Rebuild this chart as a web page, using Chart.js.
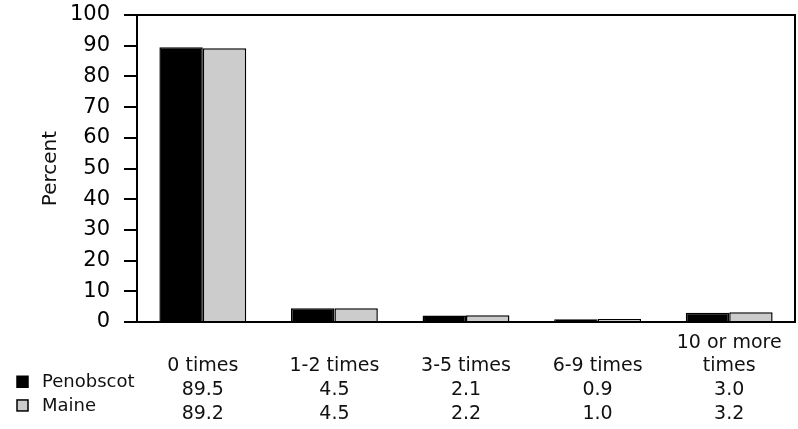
<!DOCTYPE html>
<html>
<head>
<meta charset="utf-8">
<script src="https://cdn.jsdelivr.net/npm/chart.js@4/dist/chart.umd.min.js"></script>
<style>
  html, body { margin: 0; padding: 0; background: #fff; }
  #wrap { width: 798px; height: 429px; }
</style>
</head>
<body>
<div id="wrap"><canvas id="myChart" width="798" height="429"></canvas></div>
<script>
const categories = [["", "0 times"], ["", "1-2 times"], ["", "3-5 times"], ["", "6-9 times"], ["10 or more", "times"]];
const seriesNames = ["Penobscot", "Maine"];
const penobscot = [89.5, 4.5, 2.1, 0.9, 3.0];
const maine = [89.2, 4.5, 2.2, 1.0, 3.2];
const seriesColors = ["#000000", "#cccccc"];

const FONT = "'DejaVu Sans', Verdana, sans-serif";
const TABLE_SIZE = 19;
const LINE_H = 23.7;
const X_PAD = 1;

// x tick labels carry the data table rows under each category
const tableLabels = categories.map((c, i) => [
  c[0], c[1], penobscot[i].toFixed(1), maine[i].toFixed(1)
]);

// legend column + frame on top/right
const tablePlugin = {
  id: "tableLegend",
  afterDraw(chart) {
    const ctx = chart.ctx;
    const area = chart.chartArea;
    const xs = chart.scales.x;
    ctx.save();
    ctx.strokeStyle = "#000";
    ctx.lineWidth = 2;
    ctx.beginPath();
    ctx.moveTo(area.left - 13, area.top);
    ctx.lineTo(area.right, area.top);
    ctx.lineTo(area.right, area.bottom);
    ctx.stroke();

    ctx.font = "18px " + FONT;
    ctx.textBaseline = "middle";
    ctx.textAlign = "left";
    seriesNames.forEach((name, i) => {
      const y = xs.top + X_PAD + LINE_H * (i + 2.5);
      ctx.fillStyle = seriesColors[i];
      ctx.fillRect(17, y - 6, 11, 11);
      ctx.strokeStyle = "#000";
      ctx.lineWidth = 1.5;
      ctx.strokeRect(17, y - 6, 11, 11);
      ctx.fillStyle = "#111";
      ctx.fillText(name, 42, y);
    });
    ctx.restore();
  }
};

new Chart(document.getElementById("myChart"), {
  type: "bar",
  data: {
    labels: tableLabels,
    datasets: [
      {
        label: seriesNames[0],
        data: penobscot,
        backgroundColor: seriesColors[0],
        borderColor: "#000",
        borderWidth: 1.5,
        barPercentage: 1,
        categoryPercentage: 0.66,
      },
      {
        label: seriesNames[1],
        data: maine,
        backgroundColor: seriesColors[1],
        borderColor: "#000",
        borderWidth: 1.5,
        barPercentage: 1,
        categoryPercentage: 0.66,
      },
    ],
  },
  options: {
    responsive: false,
    animation: false,
    layout: { padding: { top: 15, right: 3, left: 0, bottom: 0 } },
    plugins: {
      legend: { display: false },
      tooltip: { enabled: false },
    },
    scales: {
      y: {
        min: 0,
        max: 100,
        afterFit(scale) {
          scale.width = 137;
          scale.paddingTop = 0;
          scale.paddingBottom = 0;
        },
        ticks: {
          stepSize: 10,
          padding: 14,
          color: "#000",
          font: { family: FONT, size: 21 },
        },
        grid: {
          drawOnChartArea: false,
          drawTicks: true,
          tickLength: 13,
          color: "#000",
          lineWidth: 2,
        },
        border: { display: true, color: "#000", width: 2 },
        title: {
          display: true,
          text: "Percent",
          color: "#111",
          font: { family: FONT, size: 20 },
          padding: { top: 39, bottom: 0 },
        },
      },
      x: {
        afterFit(scale) { scale.height = 107; },
        grid: { display: false },
        border: { display: true, color: "#000", width: 2 },
        ticks: {
          maxRotation: 0,
          autoSkip: false,
          padding: X_PAD,
          color: "#111",
          font: { family: FONT, size: TABLE_SIZE, lineHeight: LINE_H / TABLE_SIZE },
        },
      },
    },
  },
  plugins: [tablePlugin],
});
</script>
</body>
</html>
